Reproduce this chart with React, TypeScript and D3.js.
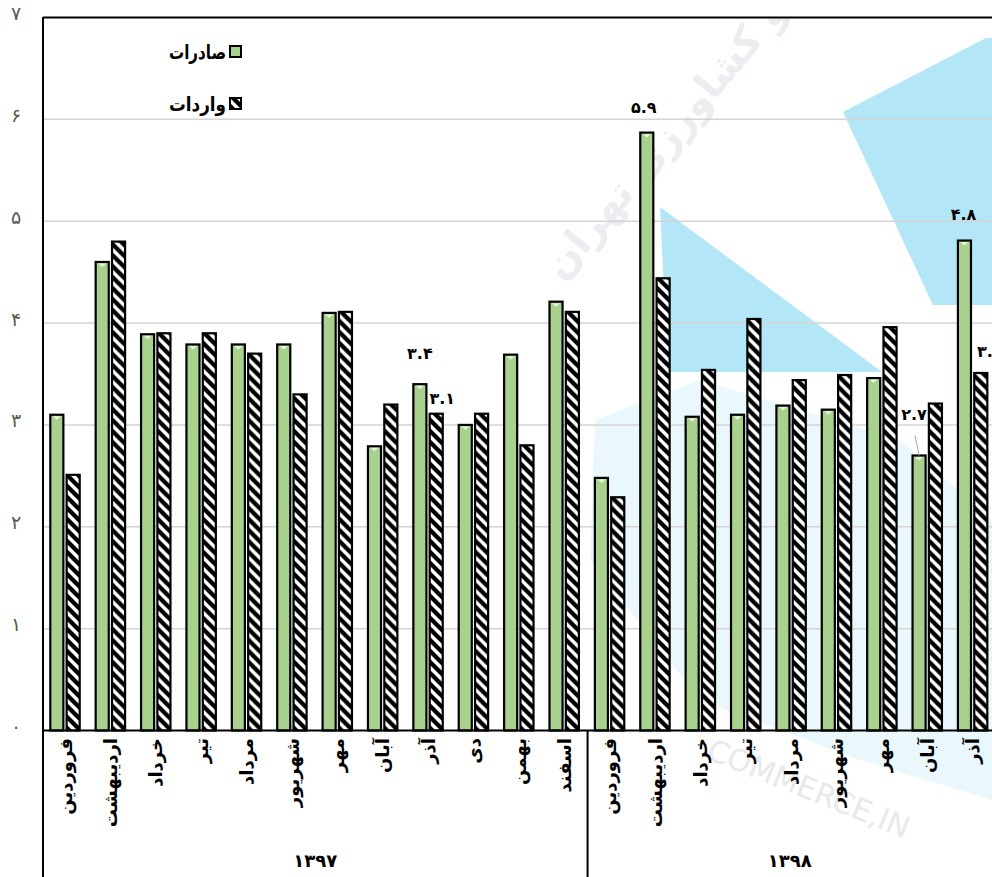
import React from "react";
import * as d3 from "d3";

const months1397 = ["فروردین", "اردیبهشت", "خرداد", "تیر", "مرداد", "شهریور", "مهر", "آبان", "آذر", "دی", "بهمن", "اسفند"];
const months1398 = ["فروردین", "اردیبهشت", "خرداد", "تیر", "مرداد", "شهریور", "مهر", "آبان", "آذر"];
const years = ["۱۳۹۷", "۱۳۹۸"];
const exports1397 = [3.1, 4.6, 3.89, 3.79, 3.79, 3.79, 4.1, 2.79, 3.4, 3.0, 3.69, 4.21];
const imports1397 = [2.51, 4.8, 3.9, 3.9, 3.7, 3.3, 4.11, 3.2, 3.11, 3.11, 2.8, 4.11];
const exports1398 = [2.48, 5.87, 3.08, 3.1, 3.19, 3.15, 3.46, 2.7, 4.81];
const imports1398 = [2.29, 4.44, 3.54, 4.04, 3.44, 3.49, 3.96, 3.21, 3.51];
const seriesNames = ["صادرات", "واردات"];
const yTicks = [0, 1, 2, 3, 4, 5, 6, 7];
// data labels: category index, series index, text
const dataLabels = [
  { cat: 8, s: 0, text: "۳.۴", dx: 0, dy: -25 },
  { cat: 8, s: 1, text: "۳.۱", dx: 6, dy: -10 },
  { cat: 13, s: 0, text: "۵.۹", dx: -3, dy: -20 },
  { cat: 19, s: 0, text: "۲.۷", dx: -5, dy: -35, leader: true },
  { cat: 20, s: 0, text: "۴.۸", dx: -1, dy: -21 },
  { cat: 20, s: 1, text: "۳.۵", dx: 9, dy: -16 },
];

const fa = (n: number) => String(n).replace(/\d/g, (d) => "۰۱۲۳۴۵۶۷۸۹"[+d]);

const W = 992, H = 877;
const FONT = "'DejaVu Sans', sans-serif";

export default function App() {
  const cats = [...months1397, ...months1398];
  const exp = [...exports1397, ...exports1398];
  const imp = [...imports1397, ...imports1398];
  const idx = cats.map((_, i) => i);
  const x = d3.scaleBand<number>().domain(idx).range([43, 996]).paddingInner(0).paddingOuter(0);
  const x1 = d3.scaleBand<number>().domain([0, 1]).range([7.3, 36.7]).paddingInner(0.2);
  const y = d3.scaleLinear().domain([0, 7]).range([730.5, 17.5]);
  const vals = [exp, imp];
  const sepX = [x(0)!, x(months1397.length)!, x(cats.length - 1)! + x.bandwidth()];
  const yearCenters = [
    (sepX[0] + sepX[1]) / 2,
    (sepX[1] + Math.min(sepX[2], W)) / 2,
  ];

  return (
    <svg width={W} height={H} style={{ position: "absolute", left: 0, top: 0, background: "#fff" }} fontFamily={FONT}>
      <defs>
        <pattern id="hatch" patternUnits="userSpaceOnUse" width="11" height="11">
          <rect width="11" height="11" fill="#fff" />
          <path d="M-4,7 l8,8 M0,0 l11,11 M7,-4 l8,8" stroke="#000" strokeWidth="4.3" />
        </pattern>
        <clipPath id="plotclip">
          <rect x={43} y={17} width={W - 43} height={H - 17} />
        </clipPath>
      </defs>

      {/* watermark */}
      <g clipPath="url(#plotclip)">
        <polygon points="595,420 700,380 900,440 992,520 992,800 860,760 700,700 590,560" fill="#e6f7fd" opacity={0.85} />
        <polygon points="843,112 986,38 992,38 992,305 933,305" fill="#b3e6f7" />
        <polygon points="660,207 882,372 668,372" fill="#b3e6f7" />
        <text transform="translate(562,282) rotate(-50)" fontSize={40} fill="#d3d8df" opacity={0.45} fontWeight="bold">اتاق بازرگانی و کشاورزی تهران</text>
        <text transform="translate(705,758) rotate(22)" fontSize={30} fill="#d0d4da" opacity={0.5}>COMMERCE,IN</text>
      </g>

      {/* gridlines */}
      {yTicks.slice(1, 7).map((t) => (
        <line key={t} x1={43} x2={W} y1={y(t)} y2={y(t)} stroke="#d4d4d4" strokeWidth={1.5} />
      ))}

      {/* bars */}
      {idx.map((i) => (
        <g key={i} transform={`translate(${x(i)},0)`}>
          {[0, 1].map((s) => {
            const v = vals[s][i];
            const bx = x1(s)!;
            const bw = x1.bandwidth();
            return (
              <g key={s}>
                <rect x={bx} y={y(v)} width={bw} height={y(0) - y(v)} fill={s === 0 ? "#a9d18e" : "url(#hatch)"} stroke="#000" strokeWidth={2.2} />
                {s === 0 && (
                  <polygon points={`${bx + 2.5},${y(v) + 1.5} ${bx + bw - 2.5},${y(v) + 1.5} ${bx + bw / 2},${y(v) + 5}`} fill="#e8f3df" />
                )}
              </g>
            );
          })}
        </g>
      ))}

      {/* plot frame */}
      <line x1={43} x2={W} y1={17.5} y2={17.5} stroke="#000" strokeWidth={2} />
      <line x1={43} x2={W} y1={730.5} y2={730.5} stroke="#000" strokeWidth={2} />
      {sepX.map((sx, i) => (
        <line key={i} x1={sx} x2={sx} y1={i === 0 ? 17 : 730} y2={H} stroke="#000" strokeWidth={2} />
      ))}

      {/* y tick labels */}
      {yTicks.map((t) => (
        <text key={t} x={16} y={y(t) - 3} textAnchor="middle" dominantBaseline="middle" fontSize={19} fill="#595959">
          {fa(t)}
        </text>
      ))}

      {/* category labels */}
      {idx.map((i) => (
        <text
          key={i}
          transform={`translate(${x(i)! + x.bandwidth() / 2 + 6},738) rotate(-90)`}
          textAnchor="end"
          fontSize={18}
          fontWeight="bold"
          fill="#000"
        >
          {cats[i]}
        </text>
      ))}

      {/* year labels */}
      {years.map((yl, i) => (
        <text key={yl} x={yearCenters[i]} y={867} textAnchor="middle" fontSize={18} fontWeight="bold" fill="#000">
          {yl}
        </text>
      ))}

      {/* data labels */}
      {dataLabels.map((d, k) => {
        const cx = x(d.cat)! + x1(d.s)! + x1.bandwidth() / 2;
        const top = y(vals[d.s][d.cat]);
        return (
          <g key={k}>
            {d.leader && <line x1={cx - 4} y1={top - 20} x2={cx} y2={top} stroke="#a6a6a6" strokeWidth={1} />}
            <text x={cx + d.dx} y={top + d.dy} textAnchor="middle" fontSize={16} fontWeight="bold" fill="#000">
              {d.text}
            </text>
          </g>
        );
      })}

      {/* legend */}
      {seriesNames.map((n, i) => (
        <g key={n} transform={`translate(0,${i * 52})`}>
          <rect x={230} y={46} width={11} height={11} fill={i === 0 ? "#a9d18e" : "url(#hatch)"} stroke="#000" strokeWidth={2} />
          <text x={226} y={59} textAnchor="end" fontSize={20} fontWeight="bold" fill="#000" textLength={57} lengthAdjust="spacingAndGlyphs">
            {n}
          </text>
        </g>
      ))}
    </svg>
  );
}
